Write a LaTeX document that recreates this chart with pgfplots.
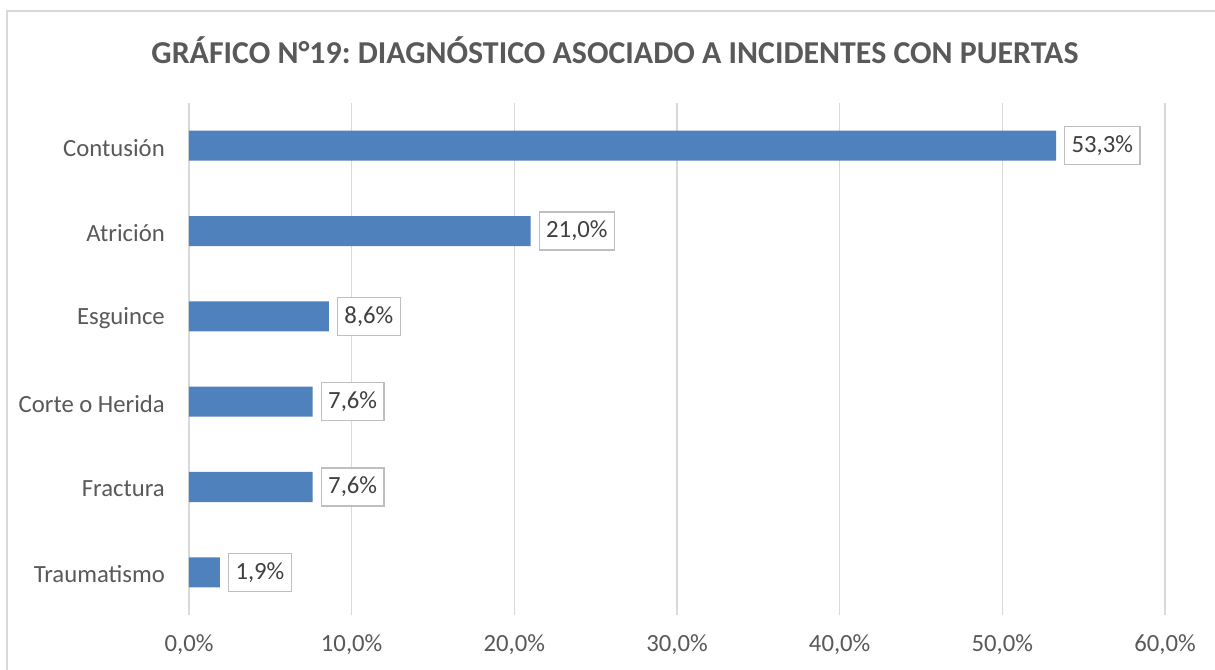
\documentclass[border=0pt]{standalone}
\usepackage{pgfplots}
\pgfplotsset{compat=1.18}
\usepackage{fontspec}
\setmainfont{Carlito}
\frenchspacing
\definecolor{barblue}{HTML}{4F81BD}
\definecolor{gridgray}{HTML}{D9D9D9}
\definecolor{txtgray}{HTML}{595959}
\definecolor{lblgray}{HTML}{404040}
\definecolor{boxgray}{HTML}{BFBFBF}
\begin{document}
\begin{tikzpicture}
\path[use as bounding box] (-189bp,-55bp) rectangle (1026bp,615bp);
\fill[white] (-189bp,-55bp) rectangle (1026bp,615bp);
\draw[gridgray, line width=1.5bp] (-182bp,-100bp) -- (-182bp,604bp) -- (1100bp,604bp);
\node[text=txtgray, font=\fontsize{32}{36}\selectfont\bfseries] at (426bp,565bp) {GRÁFICO N°19: DIAGNÓSTICO ASOCIADO A INCIDENTES CON PUERTAS};
\begin{axis}[
  at={(0,0)}, anchor=south west,
  scale only axis, width=976bp, height=512bp,
  xbar, bar width=30bp,
  xmin=0, xmax=60, ymin=-0.5, ymax=5.5,
  xtick={0,10,...,60},
  ytick={0,...,5},
  yticklabels={Traumatismo, Fractura, Corte o Herida, Esguince, Atrición, Contusión},
  axis line style={draw=none},
  major tick length=0pt,
  xmajorgrids, grid style={gridgray, line width=1.2bp},
  tick label style={text=txtgray, font=\fontsize{24.8}{29}\selectfont},
  /pgf/number format/assume math mode=true,
  xticklabel={\pgfmathprintnumber[fixed,fixed zerofill,precision=1,use comma]{\tick}\%},
  xticklabel style={anchor=base, yshift=-36bp, inner sep=0pt},
  yticklabel style={anchor=east, inner sep=0pt, xshift=-24bp, yshift=-2bp},
  nodes near coords={\pgfmathprintnumber[fixed,fixed zerofill,precision=1,use comma]{\pgfplotspointmeta}\%},
  every node near coord/.append style={anchor=west, xshift=8bp, draw=boxgray, line width=1.2bp, fill=white, text=lblgray, font=\fontsize{24.8}{29}\selectfont, inner xsep=7bp, minimum height=38bp},
]
\addplot[fill=barblue, draw=none] coordinates {(53.3,5) (21.0,4) (8.6,3) (7.6,2) (7.6,1) (1.9,0)};
\end{axis}
\end{tikzpicture}
\end{document}
